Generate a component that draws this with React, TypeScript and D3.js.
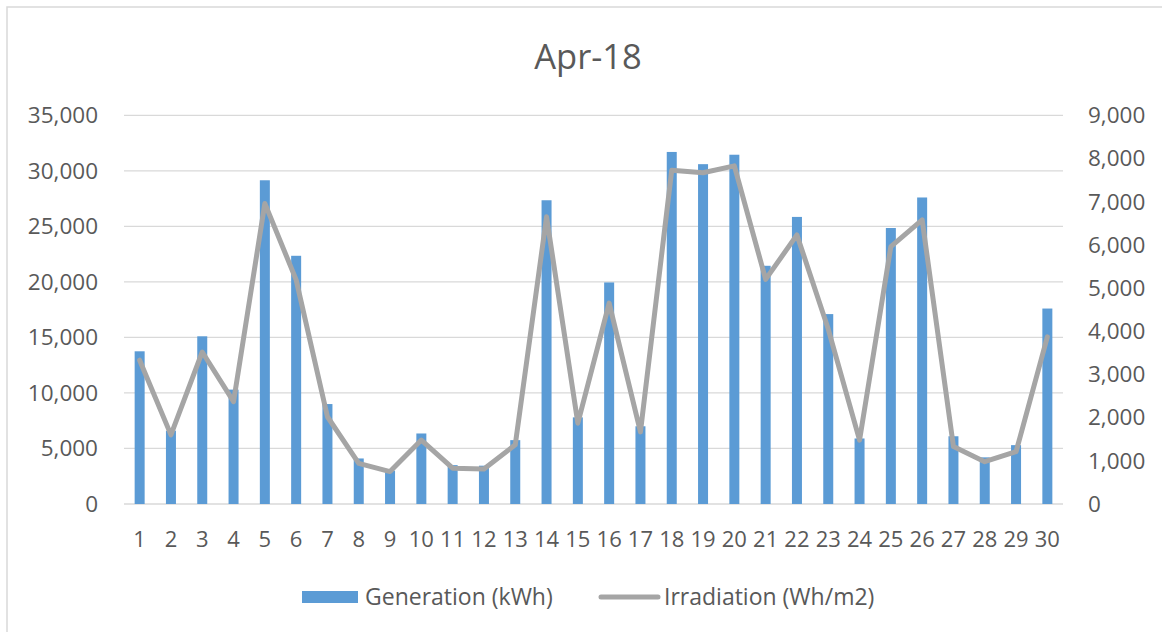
import React from "react";
import * as d3 from "d3";

const days: string[] = Array.from({ length: 30 }, (_, i) => String(i + 1));
const generation: number[] = [
  13750, 6600, 15100, 10300, 29150, 22350, 9000, 4100, 3000, 6350,
  3500, 3450, 5750, 27350, 7800, 19950, 7000, 31700, 30600, 31450,
  21450, 25850, 17100, 5900, 24850, 27600, 6100, 4200, 5300, 17600,
];
const irradiation: number[] = [
  3330, 1600, 3520, 2370, 6960, 5190, 2020, 940, 750, 1480,
  830, 810, 1370, 6650, 1870, 4650, 1670, 7730, 7670, 7830,
  5200, 6230, 4050, 1480, 5960, 6580, 1330, 980, 1210, 3870,
];
const leftTicks: number[] = [0, 5000, 10000, 15000, 20000, 25000, 30000, 35000];
const rightTicks: number[] = [0, 1000, 2000, 3000, 4000, 5000, 6000, 7000, 8000, 9000];
const title = "Apr-18";
const seriesNames = ["Generation (kWh)", "Irradiation (Wh/m2)"];

const W = 1162;
const H = 632;
const plot = { left: 124, right: 1063, top: 115.3, bottom: 504 };
const FONT = "'Open Sans', sans-serif";
const TEXT = "#595959";
const BLUE = "#5b9bd5";
const GRAY = "#a5a5a5";
const GRID = "#d9d9d9";

export default function App() {
  const x = d3.scaleBand<string>().domain(days).range([plot.left, plot.right]).paddingInner(0).paddingOuter(0);
  const yL = d3.scaleLinear().domain([0, 35000]).range([plot.bottom, plot.top]);
  const yR = d3.scaleLinear().domain([0, 9000]).range([plot.bottom, plot.top]);
  const fmt = d3.format(",");
  const barW = 10;
  const cx = (d: string) => (x(d) as number) + x.bandwidth() / 2;
  const line = d3
    .line<number>()
    .x((_, i) => cx(days[i]))
    .y((v) => yR(v));

  return (
    <svg
      width={W}
      height={H}
      style={{ position: "absolute", left: 0, top: 0, background: "#fff" }}
      fontFamily={FONT}
    >
      <rect x={0} y={0} width={W} height={H} fill="#fff" />
      <rect x={7} y={7} width={W + 20} height={H + 20} fill="none" stroke={GRID} strokeWidth={1.5} />
      <text x={588} y={69} textAnchor="middle" fontSize={34.5} fill={TEXT}>
        {title}
      </text>
      {leftTicks.map((t) => (
        <line key={"g" + t} x1={plot.left} x2={plot.right} y1={yL(t)} y2={yL(t)} stroke={GRID} strokeWidth={1.3} />
      ))}
      {leftTicks.map((t) => (
        <text key={"l" + t} x={98} y={yL(t)} dy="0.35em" textAnchor="end" fontSize={22.5} fill={TEXT}>
          {fmt(t)}
        </text>
      ))}
      {rightTicks.map((t) => (
        <text key={"r" + t} x={1088} y={yR(t)} dy="0.35em" textAnchor="start" fontSize={22.5} fill={TEXT}>
          {fmt(t)}
        </text>
      ))}
      {days.map((d, i) => (
        <rect
          key={"b" + d}
          x={cx(d) - barW / 2}
          y={yL(generation[i])}
          width={barW}
          height={plot.bottom - yL(generation[i])}
          fill={BLUE}
        />
      ))}
      <path
        d={line(irradiation) || ""}
        fill="none"
        stroke={GRAY}
        strokeWidth={5}
        strokeLinejoin="round"
        strokeLinecap="round"
      />
      {days.map((d) => (
        <text key={"x" + d} x={cx(d)} y={547} textAnchor="middle" fontSize={22} fill={TEXT}>
          {d}
        </text>
      ))}
      <rect x={302} y={591} width={56} height={12} fill={BLUE} />
      <text x={365} y={597} dy="0.35em" fontSize={23} fill={TEXT}>
        {seriesNames[0]}
      </text>
      <line x1={601} x2={658} y1={597} y2={597} stroke={GRAY} strokeWidth={5} strokeLinecap="round" />
      <text x={664} y={597} dy="0.35em" fontSize={23} fill={TEXT}>
        {seriesNames[1]}
      </text>
    </svg>
  );
}
